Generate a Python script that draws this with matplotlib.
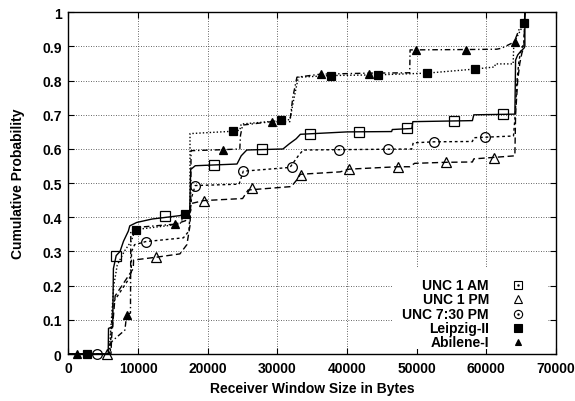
import numpy as np
import matplotlib
matplotlib.use("Agg")
import matplotlib.pyplot as plt
from matplotlib.patches import Rectangle

plt.rcParams["font.family"] = ["Liberation Sans", "DejaVu Sans"]
plt.rcParams["font.weight"] = "bold"
plt.rcParams["axes.labelweight"] = "bold"
plt.rcParams["font.size"] = 10

# CDF curves of advertised receiver window size (bytes, cumulative probability)
am_x = [0, 5700, 5750, 6350, 6450, 6850, 7400, 7900, 8600, 8800, 9800, 12000, 16000,
        17400, 17550, 18200, 24200, 24800, 25600, 30800, 31700, 32700, 33300, 40000,
        46400, 46500, 49300, 49450, 58000, 58200, 64100, 64200, 64500, 64900, 65400,
        65535, 65535]
am_y = [0, 0, 0.075, 0.08, 0.25, 0.288, 0.30, 0.33, 0.36, 0.375, 0.385, 0.395, 0.405,
        0.415, 0.54, 0.551, 0.556, 0.58, 0.597, 0.60, 0.615, 0.63, 0.643, 0.65,
        0.651, 0.657, 0.660, 0.68, 0.683, 0.70, 0.702, 0.86, 0.875, 0.885, 0.895,
        0.90, 1.0]

pm_x = [0, 6100, 6200, 6700, 9300, 9350, 12500, 16000, 17000, 17450, 17550, 19400,
        25000, 25800, 32000, 32800, 33300, 39000, 40300, 47200, 49000, 49700, 54200,
        58000, 58200, 64100, 64200, 64500, 64800, 65100, 65400, 65535]
pm_y = [0, 0, 0.05, 0.17, 0.25, 0.275, 0.283, 0.293, 0.32, 0.376, 0.44, 0.449,
        0.455, 0.48, 0.49, 0.51, 0.526, 0.533, 0.541, 0.548, 0.548, 0.558, 0.561,
        0.562, 0.571, 0.58, 0.70, 0.80, 0.85, 0.88, 0.90, 1.0]

eve_x = [0, 6000, 6100, 6400, 9000, 9050, 9500, 11100, 16500, 17300, 17500, 17700,
         18200, 24500, 25100, 31800, 33000, 33700, 38900, 49300, 49500, 52500, 58000,
         58200, 63900, 64150, 64400, 64700, 65000, 65400, 65535]
eve_y = [0, 0, 0.06, 0.15, 0.23, 0.30, 0.32, 0.329, 0.34, 0.36, 0.43, 0.46, 0.493,
         0.497, 0.535, 0.546, 0.58, 0.597, 0.598, 0.600, 0.618, 0.621, 0.622, 0.633,
         0.638, 0.70, 0.80, 0.86, 0.89, 0.91, 1.0]

lpz_x = [0, 5800, 6000, 6500, 7000, 8000, 9000, 9600, 12000, 16000, 16700, 17450,
         17450, 23700, 24600, 24800, 30500, 31800, 32300, 33000, 37800, 44500, 51500,
         58400, 61200, 61300, 63850, 63950, 65450, 65535]
lpz_y = [0, 0, 0.05, 0.20, 0.26, 0.30, 0.33, 0.364, 0.37, 0.38, 0.41, 0.415, 0.645,
         0.652, 0.655, 0.673, 0.683, 0.686, 0.74, 0.81, 0.815, 0.817, 0.822, 0.834,
         0.84, 0.849, 0.849, 0.91, 0.969, 1.0]

abi_x = [0, 5900, 5950, 6400, 8100, 8350, 8900, 8950, 9500, 15300, 16800, 17100,
         17550, 17600, 22200, 24600, 24700, 25000, 29200, 31800, 32200, 32800, 36200,
         43200, 49000, 49050, 57000, 61500, 62200, 64000, 64800, 65450, 65535]
abi_y = [0, 0, 0.03, 0.04, 0.07, 0.114, 0.12, 0.36, 0.37, 0.38, 0.39, 0.41, 0.42,
         0.595, 0.598, 0.60, 0.64, 0.67, 0.68, 0.68, 0.75, 0.81, 0.819, 0.822, 0.823,
         0.89, 0.891, 0.892, 0.895, 0.913, 0.955, 0.969, 1.0]

# point symbols placed along each curve
am_mx = [6850, 13860, 20850, 27740, 34680, 41700, 48560, 55400, 62440]
am_my = [0.288, 0.403, 0.554, 0.599, 0.644, 0.651, 0.660, 0.683, 0.701]
pm_mx = [5570, 12520, 19460, 26400, 33340, 40300, 47250, 54160, 61100]
pm_my = [0.0, 0.283, 0.449, 0.486, 0.524, 0.540, 0.548, 0.561, 0.574]
eve_mx = [4140, 11130, 18160, 25100, 32050, 38800, 45900, 52520, 59850]
eve_my = [0.0, 0.329, 0.493, 0.535, 0.546, 0.598, 0.600, 0.621, 0.635]
lpz_mx = [2700, 9690, 16730, 23670, 30510, 37700, 44490, 51520, 58420, 65450]
lpz_my = [0.0, 0.364, 0.410, 0.652, 0.685, 0.814, 0.816, 0.822, 0.834, 0.969]
abi_mx = [1270, 8350, 15290, 22230, 29220, 36210, 43180, 49900, 57030, 64050]
abi_my = [0.0, 0.114, 0.380, 0.598, 0.680, 0.819, 0.820, 0.891, 0.891, 0.914]

labels = ["UNC 1 AM", "UNC 1 PM", "UNC 7:30 PM", "Leipzig-II", "Abilene-I"]

series = [
    (am_x, am_y, am_mx, am_my, "-", "s", "none", 6.5),
    (pm_x, pm_y, pm_mx, pm_my, (0, (4.5, 2.5)), "^", "none", 7),
    (eve_x, eve_y, eve_mx, eve_my, (0, (2, 2)), "o", "none", 7),
    (lpz_x, lpz_y, lpz_mx, lpz_my, (0, (1, 1.5)), "s", "black", 6),
    (abi_x, abi_y, abi_mx, abi_my, (0, (4, 2, 1, 2)), "^", "black", 5.5),
]

fig = plt.figure(figsize=(5.75, 4.02), dpi=100)
ax = fig.add_axes([0.1191, 0.1169, 0.8478, 0.8500])

for xs, ys, mx, my, ls, mk, fc, ms in series:
    ax.plot(xs, ys, color="black", linestyle=ls, linewidth=1.0, zorder=3)
    ax.plot(mx, my, linestyle="none", marker=mk, markersize=ms,
            markerfacecolor=fc, markeredgecolor="black", markeredgewidth=0.9,
            zorder=4, clip_on=False)

ax.set_xlim(0, 70000)
ax.set_ylim(0, 1)
ax.set_xticks(np.arange(0, 70001, 10000))
ax.set_yticks(np.arange(0, 1.01, 0.1))
ax.set_yticklabels(["0", "0.1", "0.2", "0.3", "0.4", "0.5", "0.6", "0.7", "0.8", "0.9", "1"])
ax.tick_params(direction="in", top=True, right=True, length=4, width=0.8, pad=5,
               labelsize=10)
for lbl in ax.get_xticklabels() + ax.get_yticklabels():
    lbl.set_fontweight("bold")
ax.grid(True, color="#333333", linestyle=(0, (1, 2)), linewidth=0.6)
ax.set_axisbelow(True)
for sp in ax.spines.values():
    sp.set_linewidth(1.0)

ax.set_xlabel("Receiver Window Size in Bytes", fontweight="bold", labelpad=4)
ax.set_ylabel("Cumulative Probability", fontweight="bold", labelpad=12)

# key in the lower right, on a white patch that hides the grid
ax.add_patch(Rectangle((0.666, 0.015), 0.315, 0.24, transform=ax.transAxes,
                       facecolor="white", edgecolor="none", zorder=1))
rows = [0.202, 0.160, 0.118, 0.076, 0.034]
for lab, row, (_, _, _, _, _, mk, fc, ms) in zip(labels, rows, series):
    ax.text(0.8626, row, lab, transform=ax.transAxes, ha="right", va="center",
            fontsize=10, fontweight="bold", zorder=5)
    ax.plot([0.922], [row], transform=ax.transAxes, linestyle="none", marker=mk,
            markersize=ms * 0.85, markerfacecolor=fc, markeredgecolor="black",
            markeredgewidth=0.8, zorder=5, clip_on=False)
    if fc == "none" and mk != "^":
        ax.plot([0.922], [row], transform=ax.transAxes, linestyle="none",
                marker=".", markersize=1.5, color="black", zorder=5)

fig.savefig("out.png", dpi=100)
